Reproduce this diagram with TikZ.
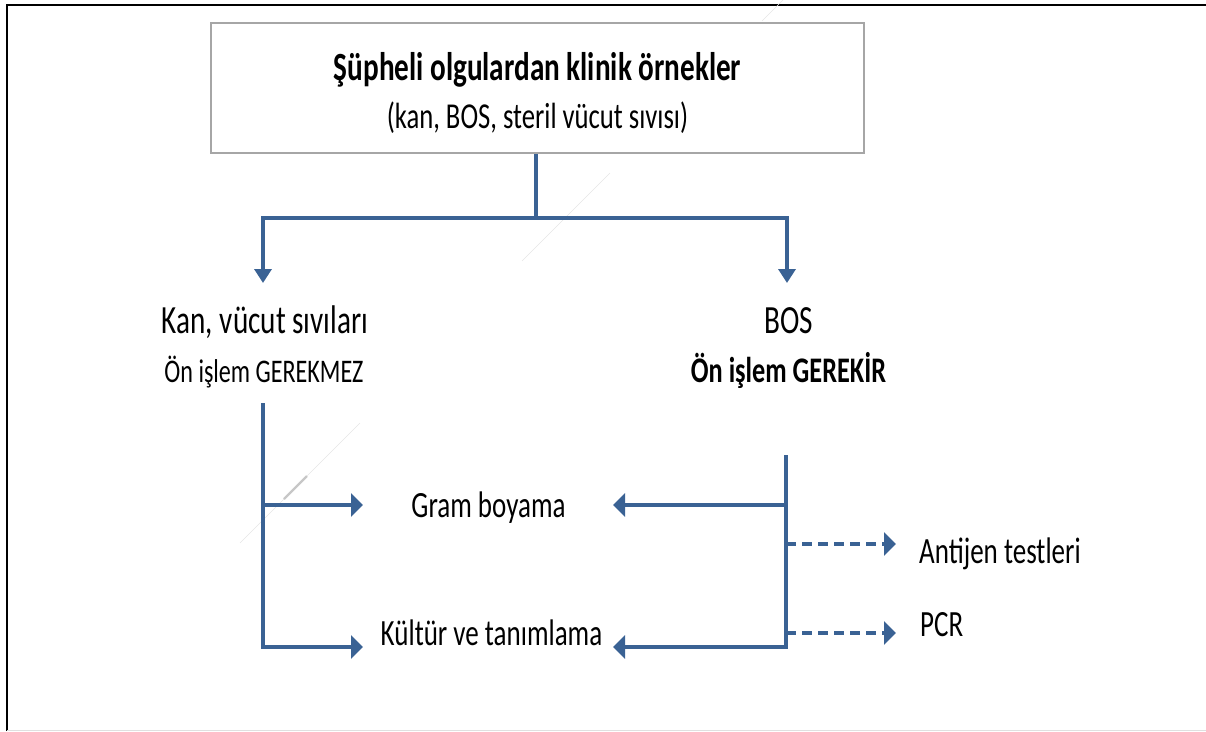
\documentclass[tikz,border=0pt]{standalone}
\usepackage{fontspec}
\setmainfont{Carlito}[FakeStretch=0.73]
\usetikzlibrary{arrows.meta}

\definecolor{flowblue}{RGB}{58,98,148}
\definecolor{boxgray}{RGB}{166,166,166}

\tikzset{
  flow/.style={draw=flowblue, line width=3.4pt},
  hhead/.style={-{Triangle[length=12pt,width=23pt]}},
  vhead/.style={-{Triangle[length=14pt,width=17pt]}},
  dashflow/.style={flow, dash pattern=on 10pt off 6pt},
  lbl/.style={anchor=base, inner sep=0pt, font=\fontsize{37}{37}\selectfont},
  biglbl/.style={anchor=base, inner sep=0pt, font=\fontsize{40}{40}\selectfont},
  faint/.style={draw=black!10, line width=0.6pt}
}

\begin{document}
\begin{tikzpicture}[x=1pt, y=-1pt]
  \useasboundingbox (0,0) rectangle (1206,731);

  % page frame
  \draw[black, line width=2pt] (7,731) -- (7,5) -- (1206,5);
  \draw[black!12, line width=1pt] (7,730) -- (1206,730);

  % faint diagonal rule
  \draw[faint] (783,0) -- (762,21);
  \draw[faint] (610,173) -- (522,261);
  \draw[faint] (360,423) -- (240,543);
  \draw[draw=black!22, line width=2.4pt] (307,476) -- (284,499);

  % top box with its texts
  \node[draw=boxgray, line width=2.2pt, minimum width=653pt, minimum height=130pt,
        inner sep=0pt] (top) at (537.5,88) {};
  \node[anchor=base, inner sep=0pt, font=\bfseries\fontsize{40}{40}\selectfont]
        (title) at (537.5,80) {Şüpheli olgulardan klinik örnekler};
  \node[anchor=base, inner sep=0pt, font=\fontsize{36.5}{36.5}\selectfont]
        (subtitle) at (537.5,128) {(kan, BOS, steril vücut sıvısı)};

  % branch labels
  \node[biglbl] (kan) at (265,333) {Kan, vücut sıvıları};
  \node[anchor=base, inner sep=0pt, font=\fontsize{33}{33}\selectfont]
        (kanpre) at (264,382) {Ön işlem GEREKMEZ};
  \node[biglbl] (bos) at (788.5,333) {BOS};
  \node[anchor=base, inner sep=0pt, font=\bfseries\fontsize{36}{36}\selectfont]
        (bospre) at (788.5,382) {Ön işlem GEREKİR};

  % test labels
  \node[lbl] (gram) at (488.5,517) {Gram boyama};
  \node[lbl] (kultur) at (491.5,645) {Kültür ve tanımlama};
  \node[lbl, anchor=base west] (antijen) at (919,563) {Antijen testleri};
  \node[lbl, anchor=base west] (pcr) at (920,636) {PCR};

  % connector points
  \coordinate (split) at (536,218);
  \coordinate (kantip) at (263,283);
  \coordinate (bostip) at (787,283);
  \coordinate (ltop) at (263,403);
  \coordinate (lgram) at (263,505);
  \coordinate (gramL) at (363,505);
  \coordinate (kulL) at (363,647);
  \coordinate (rtop) at (786,455);
  \coordinate (rgram) at (786,505);
  \coordinate (gramR) at (613,505);
  \coordinate (kulR) at (613,647);
  \coordinate (rant) at (786,544);
  \coordinate (antL) at (896,544);
  \coordinate (rpcr) at (786,633);
  \coordinate (pcrL) at (896,633);

  % split from the box into the two branches
  \draw[flow] (top.south -| split) -- (split);
  \draw[flow, vhead] (split) -| (kantip);
  \draw[flow, vhead] (split) -| (bostip);

  % left trunk
  \draw[flow, hhead] (ltop) |- (kulL);
  \draw[flow, hhead] (lgram) -- (gramL);

  % right trunk
  \draw[flow, hhead] (rtop) |- (kulR);
  \draw[flow, hhead] (rgram) -- (gramR);
  \draw[dashflow, hhead] (rant) -- (antL);
  \draw[dashflow, hhead] (rpcr) -- (pcrL);
\end{tikzpicture}
\end{document}
